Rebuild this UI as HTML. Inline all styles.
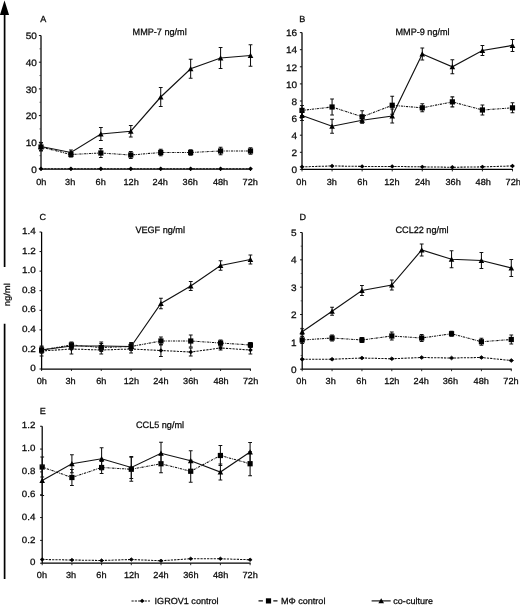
<!DOCTYPE html>
<html><head><meta charset="utf-8"><title>Figure</title>
<style>html,body{margin:0;padding:0;background:#fff}svg{display:block;will-change:transform}text{text-rendering:geometricPrecision;stroke:#000;stroke-width:.26px}</style></head><body>
<svg width="520" height="605" viewBox="0 0 520 605">
<rect width="520" height="605" fill="#fff"/>
<path d="M4.6 14V267M4.6 323.7V579" stroke="#000" stroke-width="1.7" fill="none"/>
<path d="M4.5 0.6L9.1 15.1H-0.1Z" fill="#000"/>
<text transform="translate(9.7 294.8) rotate(-90) scale(1.1 1)" text-anchor="middle" font-size="8.6" font-family="Liberation Sans, sans-serif" fill="#111">ng/ml</text>
<path d="M41 35.5V169H251.01" fill="none" stroke="#000" stroke-width="1.25"/>
<path d="M38.9 169.00H41" stroke="#111" stroke-width="1"/>
<text transform="translate(36.80 172.60) scale(1.07 1)" text-anchor="end" font-size="9.4" font-family="Liberation Sans, sans-serif" fill="#111">0</text>
<path d="M39.5 155.65H41" stroke="#333" stroke-width="0.8"/>
<path d="M38.9 142.30H41" stroke="#111" stroke-width="1"/>
<text transform="translate(36.80 145.90) scale(1.07 1)" text-anchor="end" font-size="9.4" font-family="Liberation Sans, sans-serif" fill="#111">10</text>
<path d="M39.5 128.95H41" stroke="#333" stroke-width="0.8"/>
<path d="M38.9 115.60H41" stroke="#111" stroke-width="1"/>
<text transform="translate(36.80 119.20) scale(1.07 1)" text-anchor="end" font-size="9.4" font-family="Liberation Sans, sans-serif" fill="#111">20</text>
<path d="M39.5 102.25H41" stroke="#333" stroke-width="0.8"/>
<path d="M38.9 88.90H41" stroke="#111" stroke-width="1"/>
<text transform="translate(36.80 92.50) scale(1.07 1)" text-anchor="end" font-size="9.4" font-family="Liberation Sans, sans-serif" fill="#111">30</text>
<path d="M39.5 75.55H41" stroke="#333" stroke-width="0.8"/>
<path d="M38.9 62.20H41" stroke="#111" stroke-width="1"/>
<text transform="translate(36.80 65.80) scale(1.07 1)" text-anchor="end" font-size="9.4" font-family="Liberation Sans, sans-serif" fill="#111">40</text>
<path d="M39.5 48.85H41" stroke="#333" stroke-width="0.8"/>
<path d="M38.9 35.50H41" stroke="#111" stroke-width="1"/>
<text transform="translate(36.80 39.10) scale(1.07 1)" text-anchor="end" font-size="9.4" font-family="Liberation Sans, sans-serif" fill="#111">50</text>
<path d="M41.00 169v2" stroke="#111" stroke-width="0.9"/>
<text transform="translate(41.35 184.75) scale(1.04 1)" text-anchor="middle" font-size="8.8" font-family="Liberation Sans, sans-serif" fill="#111">0h</text>
<path d="M70.93 169v2" stroke="#111" stroke-width="0.9"/>
<text transform="translate(70.13 184.75) scale(1.04 1)" text-anchor="middle" font-size="8.8" font-family="Liberation Sans, sans-serif" fill="#111">3h</text>
<path d="M100.86 169v2" stroke="#111" stroke-width="0.9"/>
<text transform="translate(100.66 184.75) scale(1.04 1)" text-anchor="middle" font-size="8.8" font-family="Liberation Sans, sans-serif" fill="#111">6h</text>
<path d="M130.79 169v2" stroke="#111" stroke-width="0.9"/>
<text transform="translate(131.09 184.75) scale(1.04 1)" text-anchor="middle" font-size="8.8" font-family="Liberation Sans, sans-serif" fill="#111">12h</text>
<path d="M160.72 169v2" stroke="#111" stroke-width="0.9"/>
<text transform="translate(160.22 184.75) scale(1.04 1)" text-anchor="middle" font-size="8.8" font-family="Liberation Sans, sans-serif" fill="#111">24h</text>
<path d="M190.65 169v2" stroke="#111" stroke-width="0.9"/>
<text transform="translate(190.25 184.75) scale(1.04 1)" text-anchor="middle" font-size="8.8" font-family="Liberation Sans, sans-serif" fill="#111">36h</text>
<path d="M220.58 169v2" stroke="#111" stroke-width="0.9"/>
<text transform="translate(220.58 184.75) scale(1.04 1)" text-anchor="middle" font-size="8.8" font-family="Liberation Sans, sans-serif" fill="#111">48h</text>
<path d="M250.51 169v2" stroke="#111" stroke-width="0.9"/>
<text transform="translate(250.21 184.75) scale(1.04 1)" text-anchor="middle" font-size="8.8" font-family="Liberation Sans, sans-serif" fill="#111">72h</text>
<text transform="translate(40.30 22.10) scale(1.03 1)" text-anchor="start" font-size="8.8" font-family="Liberation Sans, sans-serif" fill="#111">A</text>
<text transform="translate(132.60 35.40) scale(0.99 1)" text-anchor="start" font-size="9.2" font-family="Liberation Sans, sans-serif" fill="#111">MMP-7 ng/ml</text>
<polyline points="41.00,168.70 70.93,168.70 100.86,168.70 130.79,168.70 160.72,168.70 190.65,168.70 220.58,168.70 250.51,168.70" fill="none" stroke="#111" stroke-width="1.05" stroke-dasharray="2.2 1.1"/>
<path d="M41.00 166.50L43.40 168.70L41.00 170.90L38.60 168.70Z" fill="#000"/>
<path d="M70.93 166.50L73.33 168.70L70.93 170.90L68.53 168.70Z" fill="#000"/>
<path d="M100.86 166.50L103.26 168.70L100.86 170.90L98.46 168.70Z" fill="#000"/>
<path d="M130.79 166.50L133.19 168.70L130.79 170.90L128.39 168.70Z" fill="#000"/>
<path d="M160.72 166.50L163.12 168.70L160.72 170.90L158.32 168.70Z" fill="#000"/>
<path d="M190.65 166.50L193.05 168.70L190.65 170.90L188.25 168.70Z" fill="#000"/>
<path d="M220.58 166.50L222.98 168.70L220.58 170.90L218.18 168.70Z" fill="#000"/>
<path d="M250.51 166.50L252.91 168.70L250.51 170.90L248.11 168.70Z" fill="#000"/>
<polyline points="41.00,147.00 70.93,154.50 100.86,153.00 130.79,155.00 160.72,152.50 190.65,152.50 220.58,151.00 250.51,151.00" fill="none" stroke="#111" stroke-width="1.05" stroke-dasharray="2.3 0.9 0.8 0.9"/>
<path d="M41.00 143.00V151.00M39.10 143.00h3.8M39.10 151.00h3.8" stroke="#111" stroke-width="1.05" fill="none"/>
<rect x="38.40" y="144.40" width="5.2" height="5.2" fill="#000"/>
<path d="M70.93 152.00V157.00M69.03 152.00h3.8M69.03 157.00h3.8" stroke="#111" stroke-width="1.05" fill="none"/>
<rect x="68.33" y="151.90" width="5.2" height="5.2" fill="#000"/>
<path d="M100.86 148.60V157.40M98.96 148.60h3.8M98.96 157.40h3.8" stroke="#111" stroke-width="1.05" fill="none"/>
<rect x="98.26" y="150.40" width="5.2" height="5.2" fill="#000"/>
<path d="M130.79 151.50V158.50M128.89 151.50h3.8M128.89 158.50h3.8" stroke="#111" stroke-width="1.05" fill="none"/>
<rect x="128.19" y="152.40" width="5.2" height="5.2" fill="#000"/>
<path d="M160.72 149.20V155.80M158.82 149.20h3.8M158.82 155.80h3.8" stroke="#111" stroke-width="1.05" fill="none"/>
<rect x="158.12" y="149.90" width="5.2" height="5.2" fill="#000"/>
<path d="M190.65 149.70V155.30M188.75 149.70h3.8M188.75 155.30h3.8" stroke="#111" stroke-width="1.05" fill="none"/>
<rect x="188.05" y="149.90" width="5.2" height="5.2" fill="#000"/>
<path d="M220.58 147.20V154.80M218.68 147.20h3.8M218.68 154.80h3.8" stroke="#111" stroke-width="1.05" fill="none"/>
<rect x="217.98" y="148.40" width="5.2" height="5.2" fill="#000"/>
<path d="M250.51 147.70V154.30M248.61 147.70h3.8M248.61 154.30h3.8" stroke="#111" stroke-width="1.05" fill="none"/>
<rect x="247.91" y="148.40" width="5.2" height="5.2" fill="#000"/>
<polyline points="41.00,146.50 70.93,152.50 100.86,134.00 130.79,131.20 160.72,97.00 190.65,68.75 220.58,58.00 250.51,55.50" fill="none" stroke="#111" stroke-width="1.15"/>
<path d="M41.00 142.50V150.50M39.10 142.50h3.8M39.10 150.50h3.8" stroke="#111" stroke-width="1.05" fill="none"/>
<path d="M41.00 143.75L43.80 148.95H38.20Z" fill="#000"/>
<path d="M70.93 150.00V155.00M69.03 150.00h3.8M69.03 155.00h3.8" stroke="#111" stroke-width="1.05" fill="none"/>
<path d="M70.93 149.75L73.73 154.95H68.13Z" fill="#000"/>
<path d="M100.86 127.50V140.50M98.96 127.50h3.8M98.96 140.50h3.8" stroke="#111" stroke-width="1.05" fill="none"/>
<path d="M100.86 131.25L103.66 136.45H98.06Z" fill="#000"/>
<path d="M130.79 125.40V137.00M128.89 125.40h3.8M128.89 137.00h3.8" stroke="#111" stroke-width="1.05" fill="none"/>
<path d="M130.79 128.45L133.59 133.65H127.99Z" fill="#000"/>
<path d="M160.72 87.50V106.50M158.82 87.50h3.8M158.82 106.50h3.8" stroke="#111" stroke-width="1.05" fill="none"/>
<path d="M160.72 94.25L163.52 99.45H157.92Z" fill="#000"/>
<path d="M190.65 59.25V78.25M188.75 59.25h3.8M188.75 78.25h3.8" stroke="#111" stroke-width="1.05" fill="none"/>
<path d="M190.65 66.00L193.45 71.20H187.85Z" fill="#000"/>
<path d="M220.58 47.50V68.50M218.68 47.50h3.8M218.68 68.50h3.8" stroke="#111" stroke-width="1.05" fill="none"/>
<path d="M220.58 55.25L223.38 60.45H217.78Z" fill="#000"/>
<path d="M250.51 44.70V66.30M248.61 44.70h3.8M248.61 66.30h3.8" stroke="#111" stroke-width="1.05" fill="none"/>
<path d="M250.51 52.75L253.31 57.95H247.71Z" fill="#000"/>
<path d="M302 32.6V169.4H512.99" fill="none" stroke="#000" stroke-width="1.25"/>
<path d="M299.9 169.40H302" stroke="#111" stroke-width="1"/>
<text transform="translate(297.10 173.15) scale(1.07 1)" text-anchor="end" font-size="9.4" font-family="Liberation Sans, sans-serif" fill="#111">0</text>
<path d="M299.9 152.30H302" stroke="#111" stroke-width="1"/>
<text transform="translate(297.10 156.05) scale(1.07 1)" text-anchor="end" font-size="9.4" font-family="Liberation Sans, sans-serif" fill="#111">2</text>
<path d="M299.9 135.20H302" stroke="#111" stroke-width="1"/>
<text transform="translate(297.10 138.95) scale(1.07 1)" text-anchor="end" font-size="9.4" font-family="Liberation Sans, sans-serif" fill="#111">4</text>
<path d="M299.9 118.10H302" stroke="#111" stroke-width="1"/>
<text transform="translate(297.10 121.85) scale(1.07 1)" text-anchor="end" font-size="9.4" font-family="Liberation Sans, sans-serif" fill="#111">6</text>
<path d="M299.9 101.00H302" stroke="#111" stroke-width="1"/>
<text transform="translate(297.10 104.75) scale(1.07 1)" text-anchor="end" font-size="9.4" font-family="Liberation Sans, sans-serif" fill="#111">8</text>
<path d="M299.9 83.90H302" stroke="#111" stroke-width="1"/>
<text transform="translate(297.10 87.65) scale(1.07 1)" text-anchor="end" font-size="9.4" font-family="Liberation Sans, sans-serif" fill="#111">10</text>
<path d="M299.9 66.80H302" stroke="#111" stroke-width="1"/>
<text transform="translate(297.10 70.55) scale(1.07 1)" text-anchor="end" font-size="9.4" font-family="Liberation Sans, sans-serif" fill="#111">12</text>
<path d="M299.9 49.70H302" stroke="#111" stroke-width="1"/>
<text transform="translate(297.10 53.45) scale(1.07 1)" text-anchor="end" font-size="9.4" font-family="Liberation Sans, sans-serif" fill="#111">14</text>
<path d="M299.9 32.60H302" stroke="#111" stroke-width="1"/>
<text transform="translate(297.10 36.35) scale(1.07 1)" text-anchor="end" font-size="9.4" font-family="Liberation Sans, sans-serif" fill="#111">16</text>
<path d="M302.00 169.4v2" stroke="#111" stroke-width="0.9"/>
<text transform="translate(301.45 185.00) scale(1.04 1)" text-anchor="middle" font-size="8.8" font-family="Liberation Sans, sans-serif" fill="#111">0h</text>
<path d="M332.07 169.4v2" stroke="#111" stroke-width="0.9"/>
<text transform="translate(331.77 185.00) scale(1.04 1)" text-anchor="middle" font-size="8.8" font-family="Liberation Sans, sans-serif" fill="#111">3h</text>
<path d="M362.14 169.4v2" stroke="#111" stroke-width="0.9"/>
<text transform="translate(362.44 185.00) scale(1.04 1)" text-anchor="middle" font-size="8.8" font-family="Liberation Sans, sans-serif" fill="#111">6h</text>
<path d="M392.21 169.4v2" stroke="#111" stroke-width="0.9"/>
<text transform="translate(391.91 185.00) scale(1.04 1)" text-anchor="middle" font-size="8.8" font-family="Liberation Sans, sans-serif" fill="#111">12h</text>
<path d="M422.28 169.4v2" stroke="#111" stroke-width="0.9"/>
<text transform="translate(422.58 185.00) scale(1.04 1)" text-anchor="middle" font-size="8.8" font-family="Liberation Sans, sans-serif" fill="#111">24h</text>
<path d="M452.35 169.4v2" stroke="#111" stroke-width="0.9"/>
<text transform="translate(453.15 185.00) scale(1.04 1)" text-anchor="middle" font-size="8.8" font-family="Liberation Sans, sans-serif" fill="#111">36h</text>
<path d="M482.42 169.4v2" stroke="#111" stroke-width="0.9"/>
<text transform="translate(483.22 185.00) scale(1.04 1)" text-anchor="middle" font-size="8.8" font-family="Liberation Sans, sans-serif" fill="#111">48h</text>
<path d="M512.49 169.4v2" stroke="#111" stroke-width="0.9"/>
<text transform="translate(513.19 185.00) scale(1.04 1)" text-anchor="middle" font-size="8.8" font-family="Liberation Sans, sans-serif" fill="#111">72h</text>
<text transform="translate(299.20 22.30) scale(1.03 1)" text-anchor="start" font-size="8.8" font-family="Liberation Sans, sans-serif" fill="#111">B</text>
<text transform="translate(395.50 35.40) scale(0.99 1)" text-anchor="start" font-size="9.2" font-family="Liberation Sans, sans-serif" fill="#111">MMP-9 ng/ml</text>
<polyline points="302.00,166.84 332.07,165.98 362.14,166.41 392.21,166.41 422.28,166.84 452.35,167.26 482.42,166.84 512.49,165.98" fill="none" stroke="#111" stroke-width="1.05" stroke-dasharray="2.2 1.1"/>
<path d="M302.00 164.64L304.40 166.84L302.00 169.03L299.60 166.84Z" fill="#000"/>
<path d="M332.07 163.78L334.47 165.98L332.07 168.18L329.67 165.98Z" fill="#000"/>
<path d="M362.14 164.21L364.54 166.41L362.14 168.61L359.74 166.41Z" fill="#000"/>
<path d="M392.21 164.21L394.61 166.41L392.21 168.61L389.81 166.41Z" fill="#000"/>
<path d="M422.28 164.64L424.68 166.84L422.28 169.03L419.88 166.84Z" fill="#000"/>
<path d="M452.35 165.06L454.75 167.26L452.35 169.46L449.95 167.26Z" fill="#000"/>
<path d="M482.42 164.64L484.82 166.84L482.42 169.03L480.02 166.84Z" fill="#000"/>
<path d="M512.49 163.78L514.89 165.98L512.49 168.18L510.09 165.98Z" fill="#000"/>
<polyline points="302.00,110.41 332.07,106.98 362.14,116.82 392.21,105.28 422.28,107.84 452.35,101.86 482.42,109.98 512.49,107.84" fill="none" stroke="#111" stroke-width="1.05" stroke-dasharray="2.3 0.9 0.8 0.9"/>
<path d="M302.00 105.41V115.41M300.10 105.41h3.8M300.10 115.41h3.8" stroke="#111" stroke-width="1.05" fill="none"/>
<rect x="299.40" y="107.81" width="5.2" height="5.2" fill="#000"/>
<path d="M332.07 98.98V114.98M330.17 98.98h3.8M330.17 114.98h3.8" stroke="#111" stroke-width="1.05" fill="none"/>
<rect x="329.47" y="104.39" width="5.2" height="5.2" fill="#000"/>
<path d="M362.14 110.82V122.82M360.24 110.82h3.8M360.24 122.82h3.8" stroke="#111" stroke-width="1.05" fill="none"/>
<rect x="359.54" y="114.22" width="5.2" height="5.2" fill="#000"/>
<path d="M392.21 96.28V114.28M390.31 96.28h3.8M390.31 114.28h3.8" stroke="#111" stroke-width="1.05" fill="none"/>
<rect x="389.61" y="102.68" width="5.2" height="5.2" fill="#000"/>
<path d="M422.28 103.84V111.84M420.38 103.84h3.8M420.38 111.84h3.8" stroke="#111" stroke-width="1.05" fill="none"/>
<rect x="419.68" y="105.24" width="5.2" height="5.2" fill="#000"/>
<path d="M452.35 96.86V106.86M450.45 96.86h3.8M450.45 106.86h3.8" stroke="#111" stroke-width="1.05" fill="none"/>
<rect x="449.75" y="99.26" width="5.2" height="5.2" fill="#000"/>
<path d="M482.42 104.98V114.98M480.52 104.98h3.8M480.52 114.98h3.8" stroke="#111" stroke-width="1.05" fill="none"/>
<rect x="479.82" y="107.38" width="5.2" height="5.2" fill="#000"/>
<path d="M512.49 102.84V112.84M510.59 102.84h3.8M510.59 112.84h3.8" stroke="#111" stroke-width="1.05" fill="none"/>
<rect x="509.89" y="105.24" width="5.2" height="5.2" fill="#000"/>
<polyline points="302.00,115.53 332.07,126.22 362.14,120.24 392.21,115.96 422.28,53.97 452.35,66.80 482.42,50.55 512.49,45.42" fill="none" stroke="#111" stroke-width="1.15"/>
<path d="M302.00 110.53V120.53M300.10 110.53h3.8M300.10 120.53h3.8" stroke="#111" stroke-width="1.05" fill="none"/>
<path d="M302.00 112.78L304.80 117.98H299.20Z" fill="#000"/>
<path d="M332.07 119.22V133.22M330.17 119.22h3.8M330.17 133.22h3.8" stroke="#111" stroke-width="1.05" fill="none"/>
<path d="M332.07 123.47L334.87 128.67H329.27Z" fill="#000"/>
<path d="M362.14 117.24V123.24M360.24 117.24h3.8M360.24 123.24h3.8" stroke="#111" stroke-width="1.05" fill="none"/>
<path d="M362.14 117.49L364.94 122.69H359.34Z" fill="#000"/>
<path d="M392.21 108.96V122.96M390.31 108.96h3.8M390.31 122.96h3.8" stroke="#111" stroke-width="1.05" fill="none"/>
<path d="M392.21 113.21L395.01 118.41H389.41Z" fill="#000"/>
<path d="M422.28 47.97V59.97M420.38 47.97h3.8M420.38 59.97h3.8" stroke="#111" stroke-width="1.05" fill="none"/>
<path d="M422.28 51.22L425.08 56.42H419.48Z" fill="#000"/>
<path d="M452.35 59.80V73.80M450.45 59.80h3.8M450.45 73.80h3.8" stroke="#111" stroke-width="1.05" fill="none"/>
<path d="M452.35 64.05L455.15 69.25H449.55Z" fill="#000"/>
<path d="M482.42 45.55V55.55M480.52 45.55h3.8M480.52 55.55h3.8" stroke="#111" stroke-width="1.05" fill="none"/>
<path d="M482.42 47.80L485.22 53.00H479.62Z" fill="#000"/>
<path d="M512.49 39.42V51.42M510.59 39.42h3.8M510.59 51.42h3.8" stroke="#111" stroke-width="1.05" fill="none"/>
<path d="M512.49 42.67L515.29 47.88H509.69Z" fill="#000"/>
<path d="M41.6 232V369H250.91" fill="none" stroke="#000" stroke-width="1.25"/>
<path d="M39.5 369.00H41.6" stroke="#111" stroke-width="1"/>
<text transform="translate(35.70 371.20) scale(1.1 1)" text-anchor="end" font-size="9.0" font-family="Liberation Sans, sans-serif" fill="#111">0</text>
<path d="M39.5 349.43H41.6" stroke="#111" stroke-width="1"/>
<text transform="translate(35.70 351.63) scale(1.1 1)" text-anchor="end" font-size="9.0" font-family="Liberation Sans, sans-serif" fill="#111">0.2</text>
<path d="M39.5 329.86H41.6" stroke="#111" stroke-width="1"/>
<text transform="translate(35.70 332.06) scale(1.1 1)" text-anchor="end" font-size="9.0" font-family="Liberation Sans, sans-serif" fill="#111">0.4</text>
<path d="M39.5 310.29H41.6" stroke="#111" stroke-width="1"/>
<text transform="translate(35.70 312.49) scale(1.1 1)" text-anchor="end" font-size="9.0" font-family="Liberation Sans, sans-serif" fill="#111">0.6</text>
<path d="M39.5 290.71H41.6" stroke="#111" stroke-width="1"/>
<text transform="translate(35.70 292.91) scale(1.1 1)" text-anchor="end" font-size="9.0" font-family="Liberation Sans, sans-serif" fill="#111">0.8</text>
<path d="M39.5 271.14H41.6" stroke="#111" stroke-width="1"/>
<text transform="translate(35.70 273.34) scale(1.1 1)" text-anchor="end" font-size="9.0" font-family="Liberation Sans, sans-serif" fill="#111">1.0</text>
<path d="M39.5 251.57H41.6" stroke="#111" stroke-width="1"/>
<text transform="translate(35.70 253.77) scale(1.1 1)" text-anchor="end" font-size="9.0" font-family="Liberation Sans, sans-serif" fill="#111">1.2</text>
<path d="M39.5 232.00H41.6" stroke="#111" stroke-width="1"/>
<text transform="translate(35.70 234.20) scale(1.1 1)" text-anchor="end" font-size="9.0" font-family="Liberation Sans, sans-serif" fill="#111">1.4</text>
<path d="M41.60 369v2" stroke="#111" stroke-width="0.9"/>
<text transform="translate(41.85 384.00) scale(1.04 1)" text-anchor="middle" font-size="8.8" font-family="Liberation Sans, sans-serif" fill="#111">0h</text>
<path d="M71.43 369v2" stroke="#111" stroke-width="0.9"/>
<text transform="translate(70.58 384.00) scale(1.04 1)" text-anchor="middle" font-size="8.8" font-family="Liberation Sans, sans-serif" fill="#111">3h</text>
<path d="M101.26 369v2" stroke="#111" stroke-width="0.9"/>
<text transform="translate(101.26 384.00) scale(1.04 1)" text-anchor="middle" font-size="8.8" font-family="Liberation Sans, sans-serif" fill="#111">6h</text>
<path d="M131.09 369v2" stroke="#111" stroke-width="0.9"/>
<text transform="translate(131.39 384.00) scale(1.04 1)" text-anchor="middle" font-size="8.8" font-family="Liberation Sans, sans-serif" fill="#111">12h</text>
<path d="M160.92 369v2" stroke="#111" stroke-width="0.9"/>
<text transform="translate(160.92 384.00) scale(1.04 1)" text-anchor="middle" font-size="8.8" font-family="Liberation Sans, sans-serif" fill="#111">24h</text>
<path d="M190.75 369v2" stroke="#111" stroke-width="0.9"/>
<text transform="translate(190.75 384.00) scale(1.04 1)" text-anchor="middle" font-size="8.8" font-family="Liberation Sans, sans-serif" fill="#111">36h</text>
<path d="M220.58 369v2" stroke="#111" stroke-width="0.9"/>
<text transform="translate(221.08 384.00) scale(1.04 1)" text-anchor="middle" font-size="8.8" font-family="Liberation Sans, sans-serif" fill="#111">48h</text>
<path d="M250.41 369v2" stroke="#111" stroke-width="0.9"/>
<text transform="translate(250.61 384.00) scale(1.04 1)" text-anchor="middle" font-size="8.8" font-family="Liberation Sans, sans-serif" fill="#111">72h</text>
<text transform="translate(39.50 220.00) scale(1.03 1)" text-anchor="start" font-size="8.8" font-family="Liberation Sans, sans-serif" fill="#111">C</text>
<text transform="translate(135.40 233.10) scale(0.99 1)" text-anchor="start" font-size="9.2" font-family="Liberation Sans, sans-serif" fill="#111">VEGF ng/ml</text>
<polyline points="41.60,351.00 71.43,349.00 101.26,350.00 131.09,349.00 160.92,350.50 190.75,352.00 220.58,348.00 250.41,350.00" fill="none" stroke="#111" stroke-width="1.05" stroke-dasharray="2.2 1.1"/>
<path d="M41.60 346.00V356.00M39.70 346.00h3.8M39.70 356.00h3.8" stroke="#111" stroke-width="1.05" fill="none"/>
<path d="M41.60 348.80L44.00 351.00L41.60 353.20L39.20 351.00Z" fill="#000"/>
<path d="M71.43 344.00V354.00M69.53 344.00h3.8M69.53 354.00h3.8" stroke="#111" stroke-width="1.05" fill="none"/>
<path d="M71.43 346.80L73.83 349.00L71.43 351.20L69.03 349.00Z" fill="#000"/>
<path d="M101.26 346.00V354.00M99.36 346.00h3.8M99.36 354.00h3.8" stroke="#111" stroke-width="1.05" fill="none"/>
<path d="M101.26 347.80L103.66 350.00L101.26 352.20L98.86 350.00Z" fill="#000"/>
<path d="M131.09 345.00V353.00M129.19 345.00h3.8M129.19 353.00h3.8" stroke="#111" stroke-width="1.05" fill="none"/>
<path d="M131.09 346.80L133.49 349.00L131.09 351.20L128.69 349.00Z" fill="#000"/>
<path d="M160.92 344.50V356.50M159.02 344.50h3.8M159.02 356.50h3.8" stroke="#111" stroke-width="1.05" fill="none"/>
<path d="M160.92 348.30L163.32 350.50L160.92 352.70L158.52 350.50Z" fill="#000"/>
<path d="M190.75 348.00V356.00M188.85 348.00h3.8M188.85 356.00h3.8" stroke="#111" stroke-width="1.05" fill="none"/>
<path d="M190.75 349.80L193.15 352.00L190.75 354.20L188.35 352.00Z" fill="#000"/>
<path d="M220.58 346.00V350.00M218.68 346.00h3.8M218.68 350.00h3.8" stroke="#111" stroke-width="1.05" fill="none"/>
<path d="M220.58 345.80L222.98 348.00L220.58 350.20L218.18 348.00Z" fill="#000"/>
<path d="M250.41 346.00V354.00M248.51 346.00h3.8M248.51 354.00h3.8" stroke="#111" stroke-width="1.05" fill="none"/>
<path d="M250.41 347.80L252.81 350.00L250.41 352.20L248.01 350.00Z" fill="#000"/>
<polyline points="41.60,350.00 71.43,345.00 101.26,347.50 131.09,346.50 160.92,341.00 190.75,341.00 220.58,343.00 250.41,345.00" fill="none" stroke="#111" stroke-width="1.05" stroke-dasharray="2.3 0.9 0.8 0.9"/>
<path d="M41.60 347.00V353.00M39.70 347.00h3.8M39.70 353.00h3.8" stroke="#111" stroke-width="1.05" fill="none"/>
<rect x="39.00" y="347.40" width="5.2" height="5.2" fill="#000"/>
<path d="M71.43 342.00V348.00M69.53 342.00h3.8M69.53 348.00h3.8" stroke="#111" stroke-width="1.05" fill="none"/>
<rect x="68.83" y="342.40" width="5.2" height="5.2" fill="#000"/>
<path d="M101.26 343.50V351.50M99.36 343.50h3.8M99.36 351.50h3.8" stroke="#111" stroke-width="1.05" fill="none"/>
<rect x="98.66" y="344.90" width="5.2" height="5.2" fill="#000"/>
<path d="M131.09 343.50V349.50M129.19 343.50h3.8M129.19 349.50h3.8" stroke="#111" stroke-width="1.05" fill="none"/>
<rect x="128.49" y="343.90" width="5.2" height="5.2" fill="#000"/>
<path d="M160.92 337.00V345.00M159.02 337.00h3.8M159.02 345.00h3.8" stroke="#111" stroke-width="1.05" fill="none"/>
<rect x="158.32" y="338.40" width="5.2" height="5.2" fill="#000"/>
<path d="M190.75 335.00V347.00M188.85 335.00h3.8M188.85 347.00h3.8" stroke="#111" stroke-width="1.05" fill="none"/>
<rect x="188.15" y="338.40" width="5.2" height="5.2" fill="#000"/>
<path d="M220.58 340.00V346.00M218.68 340.00h3.8M218.68 346.00h3.8" stroke="#111" stroke-width="1.05" fill="none"/>
<rect x="217.98" y="340.40" width="5.2" height="5.2" fill="#000"/>
<path d="M250.41 342.50V347.50M248.51 342.50h3.8M248.51 347.50h3.8" stroke="#111" stroke-width="1.05" fill="none"/>
<rect x="247.81" y="342.40" width="5.2" height="5.2" fill="#000"/>
<polyline points="41.60,350.00 71.43,346.00 101.26,346.00 131.09,346.50 160.92,303.50 190.75,286.00 220.58,265.50 250.41,259.50" fill="none" stroke="#111" stroke-width="1.15"/>
<path d="M41.60 347.00V353.00M39.70 347.00h3.8M39.70 353.00h3.8" stroke="#111" stroke-width="1.05" fill="none"/>
<path d="M41.60 347.25L44.40 352.45H38.80Z" fill="#000"/>
<path d="M71.43 343.00V349.00M69.53 343.00h3.8M69.53 349.00h3.8" stroke="#111" stroke-width="1.05" fill="none"/>
<path d="M71.43 343.25L74.23 348.45H68.63Z" fill="#000"/>
<path d="M101.26 342.00V350.00M99.36 342.00h3.8M99.36 350.00h3.8" stroke="#111" stroke-width="1.05" fill="none"/>
<path d="M101.26 343.25L104.06 348.45H98.46Z" fill="#000"/>
<path d="M131.09 342.50V350.50M129.19 342.50h3.8M129.19 350.50h3.8" stroke="#111" stroke-width="1.05" fill="none"/>
<path d="M131.09 343.75L133.89 348.95H128.29Z" fill="#000"/>
<path d="M160.92 298.20V308.80M159.02 298.20h3.8M159.02 308.80h3.8" stroke="#111" stroke-width="1.05" fill="none"/>
<path d="M160.92 300.75L163.72 305.95H158.12Z" fill="#000"/>
<path d="M190.75 281.50V290.50M188.85 281.50h3.8M188.85 290.50h3.8" stroke="#111" stroke-width="1.05" fill="none"/>
<path d="M190.75 283.25L193.55 288.45H187.95Z" fill="#000"/>
<path d="M220.58 260.70V270.30M218.68 260.70h3.8M218.68 270.30h3.8" stroke="#111" stroke-width="1.05" fill="none"/>
<path d="M220.58 262.75L223.38 267.95H217.78Z" fill="#000"/>
<path d="M250.41 255.00V264.00M248.51 255.00h3.8M248.51 264.00h3.8" stroke="#111" stroke-width="1.05" fill="none"/>
<path d="M250.41 256.75L253.21 261.95H247.61Z" fill="#000"/>
<path d="M302.2 232.5V369.2H511.79" fill="none" stroke="#000" stroke-width="1.25"/>
<path d="M300.09999999999997 369.20H302.2" stroke="#111" stroke-width="1"/>
<text transform="translate(296.60 372.85) scale(1.07 1)" text-anchor="end" font-size="9.4" font-family="Liberation Sans, sans-serif" fill="#111">0</text>
<path d="M300.7 355.53H302.2" stroke="#333" stroke-width="0.8"/>
<path d="M300.09999999999997 341.86H302.2" stroke="#111" stroke-width="1"/>
<text transform="translate(296.60 345.51) scale(1.07 1)" text-anchor="end" font-size="9.4" font-family="Liberation Sans, sans-serif" fill="#111">1</text>
<path d="M300.7 328.19H302.2" stroke="#333" stroke-width="0.8"/>
<path d="M300.09999999999997 314.52H302.2" stroke="#111" stroke-width="1"/>
<text transform="translate(296.60 318.17) scale(1.07 1)" text-anchor="end" font-size="9.4" font-family="Liberation Sans, sans-serif" fill="#111">2</text>
<path d="M300.7 300.85H302.2" stroke="#333" stroke-width="0.8"/>
<path d="M300.09999999999997 287.18H302.2" stroke="#111" stroke-width="1"/>
<text transform="translate(296.60 290.83) scale(1.07 1)" text-anchor="end" font-size="9.4" font-family="Liberation Sans, sans-serif" fill="#111">3</text>
<path d="M300.7 273.51H302.2" stroke="#333" stroke-width="0.8"/>
<path d="M300.09999999999997 259.84H302.2" stroke="#111" stroke-width="1"/>
<text transform="translate(296.60 263.49) scale(1.07 1)" text-anchor="end" font-size="9.4" font-family="Liberation Sans, sans-serif" fill="#111">4</text>
<path d="M300.7 246.17H302.2" stroke="#333" stroke-width="0.8"/>
<path d="M300.09999999999997 232.50H302.2" stroke="#111" stroke-width="1"/>
<text transform="translate(296.60 236.15) scale(1.07 1)" text-anchor="end" font-size="9.4" font-family="Liberation Sans, sans-serif" fill="#111">5</text>
<path d="M302.20 369.2v2" stroke="#111" stroke-width="0.9"/>
<text transform="translate(301.45 384.00) scale(1.04 1)" text-anchor="middle" font-size="8.8" font-family="Liberation Sans, sans-serif" fill="#111">0h</text>
<path d="M332.07 369.2v2" stroke="#111" stroke-width="0.9"/>
<text transform="translate(330.67 384.00) scale(1.04 1)" text-anchor="middle" font-size="8.8" font-family="Liberation Sans, sans-serif" fill="#111">3h</text>
<path d="M361.94 369.2v2" stroke="#111" stroke-width="0.9"/>
<text transform="translate(361.39 384.00) scale(1.04 1)" text-anchor="middle" font-size="8.8" font-family="Liberation Sans, sans-serif" fill="#111">6h</text>
<path d="M391.81 369.2v2" stroke="#111" stroke-width="0.9"/>
<text transform="translate(391.81 384.00) scale(1.04 1)" text-anchor="middle" font-size="8.8" font-family="Liberation Sans, sans-serif" fill="#111">12h</text>
<path d="M421.68 369.2v2" stroke="#111" stroke-width="0.9"/>
<text transform="translate(421.18 384.00) scale(1.04 1)" text-anchor="middle" font-size="8.8" font-family="Liberation Sans, sans-serif" fill="#111">24h</text>
<path d="M451.55 369.2v2" stroke="#111" stroke-width="0.9"/>
<text transform="translate(450.35 384.00) scale(1.04 1)" text-anchor="middle" font-size="8.8" font-family="Liberation Sans, sans-serif" fill="#111">36h</text>
<path d="M481.42 369.2v2" stroke="#111" stroke-width="0.9"/>
<text transform="translate(481.22 384.00) scale(1.04 1)" text-anchor="middle" font-size="8.8" font-family="Liberation Sans, sans-serif" fill="#111">48h</text>
<path d="M511.29 369.2v2" stroke="#111" stroke-width="0.9"/>
<text transform="translate(510.99 384.00) scale(1.04 1)" text-anchor="middle" font-size="8.8" font-family="Liberation Sans, sans-serif" fill="#111">72h</text>
<text transform="translate(299.60 219.50) scale(1.03 1)" text-anchor="start" font-size="8.8" font-family="Liberation Sans, sans-serif" fill="#111">D</text>
<text transform="translate(395.50 233.20) scale(0.99 1)" text-anchor="start" font-size="9.2" font-family="Liberation Sans, sans-serif" fill="#111">CCL22 ng/ml</text>
<polyline points="302.20,359.25 332.07,359.25 361.94,358.00 391.81,358.75 421.68,357.50 451.55,358.00 481.42,357.50 511.29,360.50" fill="none" stroke="#111" stroke-width="1.05" stroke-dasharray="2.2 1.1"/>
<path d="M302.20 357.45L304.40 359.25L302.20 361.05L300.00 359.25Z" fill="#000" stroke="#000" stroke-width="0.8" stroke-linejoin="round"/>
<path d="M332.07 357.45L334.27 359.25L332.07 361.05L329.87 359.25Z" fill="#000" stroke="#000" stroke-width="0.8" stroke-linejoin="round"/>
<path d="M361.94 356.20L364.14 358.00L361.94 359.80L359.74 358.00Z" fill="#000" stroke="#000" stroke-width="0.8" stroke-linejoin="round"/>
<path d="M391.81 356.95L394.01 358.75L391.81 360.55L389.61 358.75Z" fill="#000" stroke="#000" stroke-width="0.8" stroke-linejoin="round"/>
<path d="M421.68 355.70L423.88 357.50L421.68 359.30L419.48 357.50Z" fill="#000" stroke="#000" stroke-width="0.8" stroke-linejoin="round"/>
<path d="M451.55 356.20L453.75 358.00L451.55 359.80L449.35 358.00Z" fill="#000" stroke="#000" stroke-width="0.8" stroke-linejoin="round"/>
<path d="M481.42 355.70L483.62 357.50L481.42 359.30L479.22 357.50Z" fill="#000" stroke="#000" stroke-width="0.8" stroke-linejoin="round"/>
<path d="M511.29 358.70L513.49 360.50L511.29 362.30L509.09 360.50Z" fill="#000" stroke="#000" stroke-width="0.8" stroke-linejoin="round"/>
<polyline points="302.20,340.00 332.07,338.00 361.94,340.00 391.81,336.00 421.68,338.00 451.55,333.75 481.42,341.75 511.29,339.50" fill="none" stroke="#111" stroke-width="1.05" stroke-dasharray="2.3 0.9 0.8 0.9"/>
<path d="M302.20 336.50V343.50M300.30 336.50h3.8M300.30 343.50h3.8" stroke="#111" stroke-width="1.05" fill="none"/>
<rect x="299.60" y="337.40" width="5.2" height="5.2" fill="#000"/>
<path d="M332.07 335.00V341.00M330.17 335.00h3.8M330.17 341.00h3.8" stroke="#111" stroke-width="1.05" fill="none"/>
<rect x="329.47" y="335.40" width="5.2" height="5.2" fill="#000"/>
<path d="M361.94 337.50V342.50M360.04 337.50h3.8M360.04 342.50h3.8" stroke="#111" stroke-width="1.05" fill="none"/>
<rect x="359.34" y="337.40" width="5.2" height="5.2" fill="#000"/>
<path d="M391.81 332.00V340.00M389.91 332.00h3.8M389.91 340.00h3.8" stroke="#111" stroke-width="1.05" fill="none"/>
<rect x="389.21" y="333.40" width="5.2" height="5.2" fill="#000"/>
<path d="M421.68 334.50V341.50M419.78 334.50h3.8M419.78 341.50h3.8" stroke="#111" stroke-width="1.05" fill="none"/>
<rect x="419.08" y="335.40" width="5.2" height="5.2" fill="#000"/>
<path d="M451.55 331.25V336.25M449.65 331.25h3.8M449.65 336.25h3.8" stroke="#111" stroke-width="1.05" fill="none"/>
<rect x="448.95" y="331.15" width="5.2" height="5.2" fill="#000"/>
<path d="M481.42 338.25V345.25M479.52 338.25h3.8M479.52 345.25h3.8" stroke="#111" stroke-width="1.05" fill="none"/>
<rect x="478.82" y="339.15" width="5.2" height="5.2" fill="#000"/>
<path d="M511.29 335.00V344.00M509.39 335.00h3.8M509.39 344.00h3.8" stroke="#111" stroke-width="1.05" fill="none"/>
<rect x="508.69" y="336.90" width="5.2" height="5.2" fill="#000"/>
<polyline points="302.20,331.75 332.07,311.25 361.94,290.50 391.81,285.00 421.68,250.00 451.55,259.25 481.42,260.50 511.29,268.00" fill="none" stroke="#111" stroke-width="1.15"/>
<path d="M302.20 328.75V334.75M300.30 328.75h3.8M300.30 334.75h3.8" stroke="#111" stroke-width="1.05" fill="none"/>
<path d="M302.20 329.00L305.00 334.20H299.40Z" fill="#000"/>
<path d="M332.07 307.25V315.25M330.17 307.25h3.8M330.17 315.25h3.8" stroke="#111" stroke-width="1.05" fill="none"/>
<path d="M332.07 308.50L334.87 313.70H329.27Z" fill="#000"/>
<path d="M361.94 285.50V295.50M360.04 285.50h3.8M360.04 295.50h3.8" stroke="#111" stroke-width="1.05" fill="none"/>
<path d="M361.94 287.75L364.74 292.95H359.14Z" fill="#000"/>
<path d="M391.81 280.00V290.00M389.91 280.00h3.8M389.91 290.00h3.8" stroke="#111" stroke-width="1.05" fill="none"/>
<path d="M391.81 282.25L394.61 287.45H389.01Z" fill="#000"/>
<path d="M421.68 244.00V256.00M419.78 244.00h3.8M419.78 256.00h3.8" stroke="#111" stroke-width="1.05" fill="none"/>
<path d="M421.68 247.25L424.48 252.45H418.88Z" fill="#000"/>
<path d="M451.55 250.75V267.75M449.65 250.75h3.8M449.65 267.75h3.8" stroke="#111" stroke-width="1.05" fill="none"/>
<path d="M451.55 256.50L454.35 261.70H448.75Z" fill="#000"/>
<path d="M481.42 252.50V268.50M479.52 252.50h3.8M479.52 268.50h3.8" stroke="#111" stroke-width="1.05" fill="none"/>
<path d="M481.42 257.75L484.22 262.95H478.62Z" fill="#000"/>
<path d="M511.29 259.50V276.50M509.39 259.50h3.8M509.39 276.50h3.8" stroke="#111" stroke-width="1.05" fill="none"/>
<path d="M511.29 265.25L514.09 270.45H508.49Z" fill="#000"/>
<path d="M42.2 426.25V563.2H250.60" fill="none" stroke="#000" stroke-width="1.25"/>
<path d="M40.1 563.20H42.2" stroke="#111" stroke-width="1"/>
<text transform="translate(35.30 565.40) scale(1.08 1)" text-anchor="end" font-size="9.0" font-family="Liberation Sans, sans-serif" fill="#111">0</text>
<path d="M40.1 540.38H42.2" stroke="#111" stroke-width="1"/>
<text transform="translate(35.30 542.58) scale(1.08 1)" text-anchor="end" font-size="9.0" font-family="Liberation Sans, sans-serif" fill="#111">0.2</text>
<path d="M40.1 517.55H42.2" stroke="#111" stroke-width="1"/>
<text transform="translate(35.30 519.75) scale(1.08 1)" text-anchor="end" font-size="9.0" font-family="Liberation Sans, sans-serif" fill="#111">0.4</text>
<path d="M40.1 494.73H42.2" stroke="#111" stroke-width="1"/>
<text transform="translate(35.30 496.93) scale(1.08 1)" text-anchor="end" font-size="9.0" font-family="Liberation Sans, sans-serif" fill="#111">0.6</text>
<path d="M40.1 471.90H42.2" stroke="#111" stroke-width="1"/>
<text transform="translate(35.30 474.10) scale(1.08 1)" text-anchor="end" font-size="9.0" font-family="Liberation Sans, sans-serif" fill="#111">0.8</text>
<path d="M40.1 449.07H42.2" stroke="#111" stroke-width="1"/>
<text transform="translate(35.30 451.27) scale(1.08 1)" text-anchor="end" font-size="9.0" font-family="Liberation Sans, sans-serif" fill="#111">1.0</text>
<path d="M40.1 426.25H42.2" stroke="#111" stroke-width="1"/>
<text transform="translate(35.30 428.45) scale(1.08 1)" text-anchor="end" font-size="9.0" font-family="Liberation Sans, sans-serif" fill="#111">1.2</text>
<path d="M42.20 563.2v2" stroke="#111" stroke-width="0.9"/>
<text transform="translate(41.90 578.10) scale(1.04 1)" text-anchor="middle" font-size="8.8" font-family="Liberation Sans, sans-serif" fill="#111">0h</text>
<path d="M71.90 563.2v2" stroke="#111" stroke-width="0.9"/>
<text transform="translate(71.05 578.10) scale(1.04 1)" text-anchor="middle" font-size="8.8" font-family="Liberation Sans, sans-serif" fill="#111">3h</text>
<path d="M101.60 563.2v2" stroke="#111" stroke-width="0.9"/>
<text transform="translate(101.40 578.10) scale(1.04 1)" text-anchor="middle" font-size="8.8" font-family="Liberation Sans, sans-serif" fill="#111">6h</text>
<path d="M131.30 563.2v2" stroke="#111" stroke-width="0.9"/>
<text transform="translate(131.60 578.10) scale(1.04 1)" text-anchor="middle" font-size="8.8" font-family="Liberation Sans, sans-serif" fill="#111">12h</text>
<path d="M161.00 563.2v2" stroke="#111" stroke-width="0.9"/>
<text transform="translate(161.00 578.10) scale(1.04 1)" text-anchor="middle" font-size="8.8" font-family="Liberation Sans, sans-serif" fill="#111">24h</text>
<path d="M190.70 563.2v2" stroke="#111" stroke-width="0.9"/>
<text transform="translate(190.90 578.10) scale(1.04 1)" text-anchor="middle" font-size="8.8" font-family="Liberation Sans, sans-serif" fill="#111">36h</text>
<path d="M220.40 563.2v2" stroke="#111" stroke-width="0.9"/>
<text transform="translate(220.60 578.10) scale(1.04 1)" text-anchor="middle" font-size="8.8" font-family="Liberation Sans, sans-serif" fill="#111">48h</text>
<path d="M250.10 563.2v2" stroke="#111" stroke-width="0.9"/>
<text transform="translate(250.10 578.10) scale(1.04 1)" text-anchor="middle" font-size="8.8" font-family="Liberation Sans, sans-serif" fill="#111">72h</text>
<text transform="translate(39.80 414.00) scale(1.03 1)" text-anchor="start" font-size="8.8" font-family="Liberation Sans, sans-serif" fill="#111">E</text>
<text transform="translate(136.00 427.60) scale(0.99 1)" text-anchor="start" font-size="9.2" font-family="Liberation Sans, sans-serif" fill="#111">CCL5 ng/ml</text>
<polyline points="42.20,559.50 71.90,560.00 101.60,560.50 131.30,559.50 161.00,560.75 190.70,558.75 220.40,558.75 250.10,559.75" fill="none" stroke="#111" stroke-width="1.05" stroke-dasharray="2.2 1.1"/>
<path d="M42.20 557.80L44.20 559.50L42.20 561.20L40.20 559.50Z" fill="#000" stroke="#000" stroke-width="0.7" stroke-linejoin="round"/>
<path d="M71.90 558.30L73.90 560.00L71.90 561.70L69.90 560.00Z" fill="#000" stroke="#000" stroke-width="0.7" stroke-linejoin="round"/>
<path d="M101.60 558.80L103.60 560.50L101.60 562.20L99.60 560.50Z" fill="#000" stroke="#000" stroke-width="0.7" stroke-linejoin="round"/>
<path d="M131.30 557.80L133.30 559.50L131.30 561.20L129.30 559.50Z" fill="#000" stroke="#000" stroke-width="0.7" stroke-linejoin="round"/>
<path d="M161.00 559.05L163.00 560.75L161.00 562.45L159.00 560.75Z" fill="#000" stroke="#000" stroke-width="0.7" stroke-linejoin="round"/>
<path d="M190.70 557.05L192.70 558.75L190.70 560.45L188.70 558.75Z" fill="#000" stroke="#000" stroke-width="0.7" stroke-linejoin="round"/>
<path d="M220.40 557.05L222.40 558.75L220.40 560.45L218.40 558.75Z" fill="#000" stroke="#000" stroke-width="0.7" stroke-linejoin="round"/>
<path d="M250.10 558.05L252.10 559.75L250.10 561.45L248.10 559.75Z" fill="#000" stroke="#000" stroke-width="0.7" stroke-linejoin="round"/>
<polyline points="42.20,467.00 71.90,477.50 101.60,467.50 131.30,469.25 161.00,463.75 190.70,471.25 220.40,455.50 250.10,463.75" fill="none" stroke="#111" stroke-width="1.05" stroke-dasharray="2.3 0.9 0.8 0.9"/>
<path d="M42.20 457.00V477.00M40.30 457.00h3.8M40.30 477.00h3.8" stroke="#111" stroke-width="1.05" fill="none"/>
<rect x="39.60" y="464.40" width="5.2" height="5.2" fill="#000"/>
<path d="M71.90 469.50V485.50M70.00 469.50h3.8M70.00 485.50h3.8" stroke="#111" stroke-width="1.05" fill="none"/>
<rect x="69.30" y="474.90" width="5.2" height="5.2" fill="#000"/>
<path d="M101.60 461.50V473.50M99.70 461.50h3.8M99.70 473.50h3.8" stroke="#111" stroke-width="1.05" fill="none"/>
<rect x="99.00" y="464.90" width="5.2" height="5.2" fill="#000"/>
<path d="M131.30 457.25V481.25M129.40 457.25h3.8M129.40 481.25h3.8" stroke="#111" stroke-width="1.05" fill="none"/>
<rect x="128.70" y="466.65" width="5.2" height="5.2" fill="#000"/>
<path d="M161.00 454.75V472.75M159.10 454.75h3.8M159.10 472.75h3.8" stroke="#111" stroke-width="1.05" fill="none"/>
<rect x="158.40" y="461.15" width="5.2" height="5.2" fill="#000"/>
<path d="M190.70 460.25V482.25M188.80 460.25h3.8M188.80 482.25h3.8" stroke="#111" stroke-width="1.05" fill="none"/>
<rect x="188.10" y="468.65" width="5.2" height="5.2" fill="#000"/>
<path d="M220.40 445.50V465.50M218.50 445.50h3.8M218.50 465.50h3.8" stroke="#111" stroke-width="1.05" fill="none"/>
<rect x="217.80" y="452.90" width="5.2" height="5.2" fill="#000"/>
<path d="M250.10 451.75V475.75M248.20 451.75h3.8M248.20 475.75h3.8" stroke="#111" stroke-width="1.05" fill="none"/>
<rect x="247.50" y="461.15" width="5.2" height="5.2" fill="#000"/>
<polyline points="42.20,480.50 71.90,463.75 101.60,458.75 131.30,467.50 161.00,453.25 190.70,460.75 220.40,472.00 250.10,452.00" fill="none" stroke="#111" stroke-width="1.15"/>
<path d="M42.20 465.50V495.50M40.30 465.50h3.8M40.30 495.50h3.8" stroke="#111" stroke-width="1.05" fill="none"/>
<path d="M42.20 477.75L45.00 482.95H39.40Z" fill="#000"/>
<path d="M71.90 454.75V472.75M70.00 454.75h3.8M70.00 472.75h3.8" stroke="#111" stroke-width="1.05" fill="none"/>
<path d="M71.90 461.00L74.70 466.20H69.10Z" fill="#000"/>
<path d="M101.60 447.75V469.75M99.70 447.75h3.8M99.70 469.75h3.8" stroke="#111" stroke-width="1.05" fill="none"/>
<path d="M101.60 456.00L104.40 461.20H98.80Z" fill="#000"/>
<path d="M131.30 456.50V478.50M129.40 456.50h3.8M129.40 478.50h3.8" stroke="#111" stroke-width="1.05" fill="none"/>
<path d="M131.30 464.75L134.10 469.95H128.50Z" fill="#000"/>
<path d="M161.00 442.25V464.25M159.10 442.25h3.8M159.10 464.25h3.8" stroke="#111" stroke-width="1.05" fill="none"/>
<path d="M161.00 450.50L163.80 455.70H158.20Z" fill="#000"/>
<path d="M190.70 450.75V470.75M188.80 450.75h3.8M188.80 470.75h3.8" stroke="#111" stroke-width="1.05" fill="none"/>
<path d="M190.70 458.00L193.50 463.20H187.90Z" fill="#000"/>
<path d="M220.40 464.00V480.00M218.50 464.00h3.8M218.50 480.00h3.8" stroke="#111" stroke-width="1.05" fill="none"/>
<path d="M220.40 469.25L223.20 474.45H217.60Z" fill="#000"/>
<path d="M250.10 442.50V461.50M248.20 442.50h3.8M248.20 461.50h3.8" stroke="#111" stroke-width="1.05" fill="none"/>
<path d="M250.10 449.25L252.90 454.45H247.30Z" fill="#000"/>
<path d="M131.5 600.9H150" stroke="#111" stroke-width="1.05" stroke-dasharray="2.2 1.1"/>
<path d="M142.10 598.70L144.50 600.90L142.10 603.10L139.70 600.90Z" fill="#000"/>
<text transform="translate(154.60 604.00) scale(1.03 1)" text-anchor="start" font-size="8.8" font-family="Liberation Sans, sans-serif" fill="#111">IGROV1 control</text>
<path d="M258.5 600.9h4.4m10.4 0h4.2" stroke="#111" stroke-width="1.1"/>
<rect x="265.90" y="598.30" width="5.2" height="5.2" fill="#000"/>
<text transform="translate(280.90 604.00) scale(1.03 1)" text-anchor="start" font-size="8.8" font-family="Liberation Sans, sans-serif" fill="#111">MΦ control</text>
<path d="M371.6 600.9H390.7" stroke="#111" stroke-width="1.15"/>
<path d="M381.20 598.15L384.00 603.35H378.40Z" fill="#000"/>
<text transform="translate(393.30 604.00) scale(1.03 1)" text-anchor="start" font-size="8.8" font-family="Liberation Sans, sans-serif" fill="#111">co-culture</text>
</svg></body></html>
